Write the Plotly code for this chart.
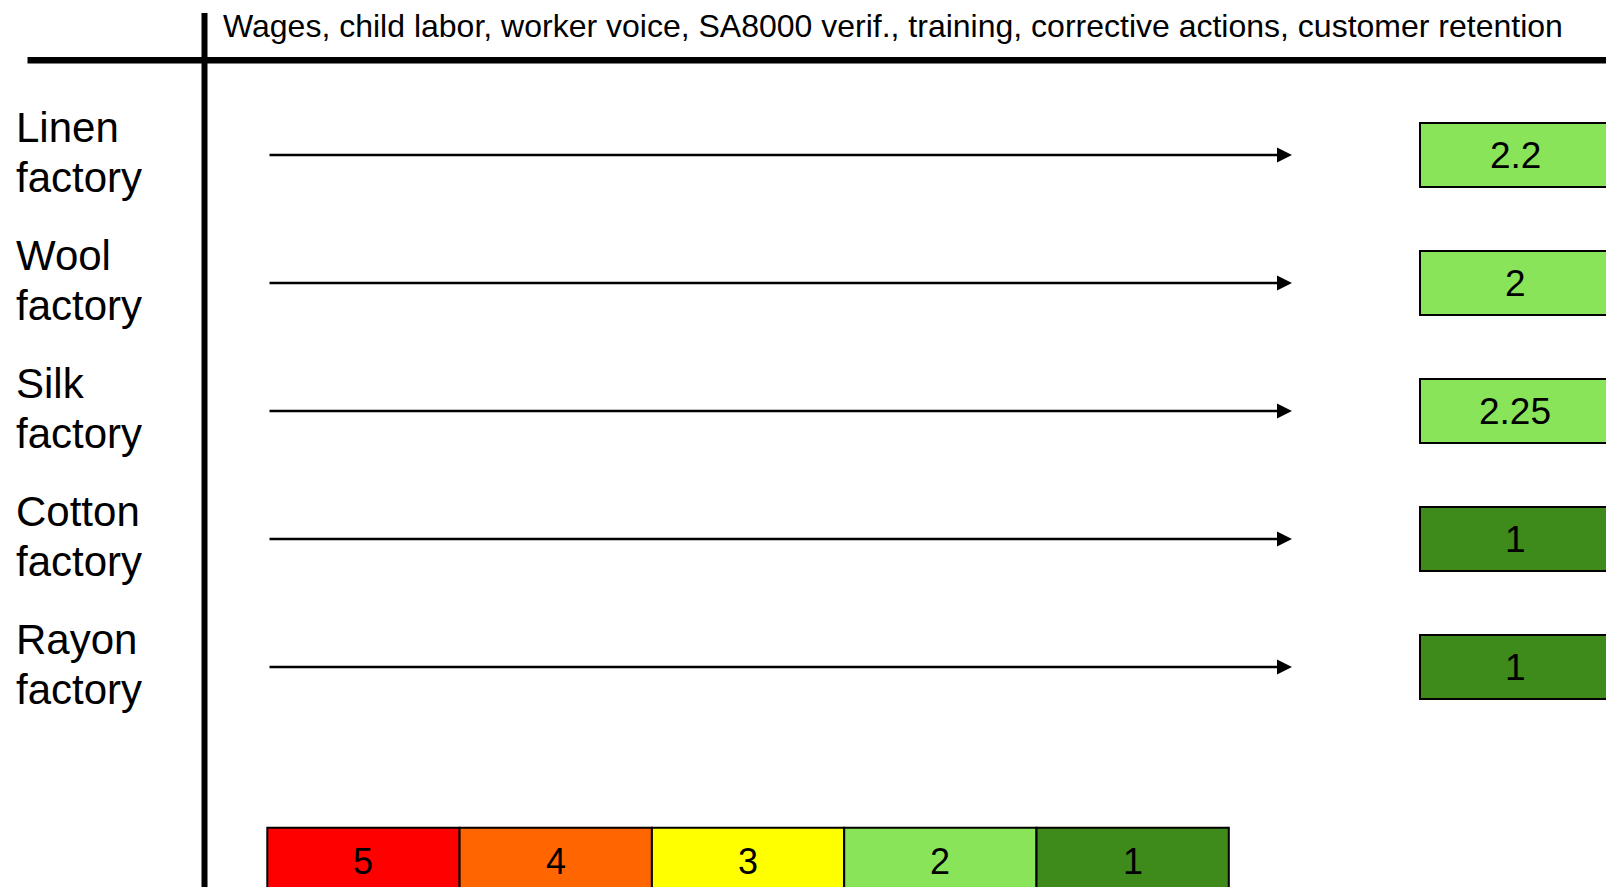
import plotly.graph_objects as go

# ---- data ----
factories = ["Linen factory", "Wool factory", "Silk factory", "Cotton factory", "Rayon factory"]
scores = [2.2, 2, 2.25, 1, 1]
header_text = "Wages, child labor, worker voice, SA8000 verif., training, corrective actions, customer retention"
scale_levels = [5, 4, 3, 2, 1]
scale_colors = ["#FF0000", "#FF6600", "#FFFF00", "#8AE45A", "#3E8A1A"]

# ---- layout constants (viewport pixels) ----
W, H = 1606, 887
ROW0_PX, ROW_STEP_PX = 155.0, 128.0
FONT = "Liberation Sans, Arial, Helvetica, sans-serif"


def py(p):
    """Convert a pixel row position into row units of the y axis."""
    return (p - ROW0_PX) / ROW_STEP_PX


color_of = dict(zip(scale_levels, scale_colors))

fig = go.Figure()
fig.add_trace(go.Scatter(x=[0], y=[0], mode="markers", marker=dict(opacity=0),
                         hoverinfo="skip", showlegend=False))

shapes = []
annotations = []

# frame lines
shapes.append(dict(type="line", xref="x", yref="y", x0=204.5, x1=204.5, y0=py(13), y1=py(H + 10),
                   line=dict(color="black", width=6)))
shapes.append(dict(type="line", xref="x", yref="y", x0=27.5, x1=W + 10, y0=py(60.3), y1=py(60.3),
                   line=dict(color="black", width=6.5)))

# header
annotations.append(dict(x=221, y=py(25.6), xref="x", yref="y", text=header_text, showarrow=False,
                        xanchor="left", yanchor="middle", font=dict(family=FONT, size=32, color="black")))

line_off = [py(127.1), py(177.1)]  # two label lines relative to row 0
for i, (name, sc) in enumerate(zip(factories, scores)):
    w1, w2 = name.split(" ", 1)
    for txt, off in ((w1, line_off[0]), (w2, line_off[1])):
        annotations.append(dict(x=13.5, y=i + off, xref="x", yref="y", text=txt, showarrow=False,
                                xanchor="left", yanchor="middle",
                                font=dict(family=FONT, size=42, color="black")))
    # arrow
    annotations.append(dict(x=1292, y=i, ax=268, ay=i, xref="x", yref="y", axref="x", ayref="y",
                            text="", showarrow=True, arrowhead=2, arrowsize=1.2, arrowwidth=2.5,
                            arrowcolor="black", standoff=0, startstandoff=0))
    # score box
    lvl = int(round(sc))
    shapes.append(dict(type="rect", xref="x", yref="y", x0=1420, x1=1610,
                       y0=i - 32 / ROW_STEP_PX, y1=i + 32 / ROW_STEP_PX,
                       fillcolor=color_of[lvl], line=dict(color="black", width=2), layer="above"))
    annotations.append(dict(x=1515, y=i + 0.5 / ROW_STEP_PX, xref="x", yref="y", text=f"{sc:g}",
                            showarrow=False, xanchor="center", yanchor="middle",
                            font=dict(family=FONT, size=37, color="black")))

# colour scale
LEG_X0, LEG_W = 267.3, 192.3
for j, (lv, col) in enumerate(zip(scale_levels, scale_colors)):
    shapes.append(dict(type="rect", xref="x", yref="y", x0=LEG_X0 + j * LEG_W, x1=LEG_X0 + (j + 1) * LEG_W,
                       y0=py(827.7), y1=py(900), fillcolor=col, line=dict(color="black", width=2),
                       layer="above"))
    annotations.append(dict(x=LEG_X0 + (j + 0.5) * LEG_W, y=py(861.5), xref="x", yref="y", text=str(lv),
                            showarrow=False, xanchor="center", yanchor="middle",
                            font=dict(family=FONT, size=36, color="black")))

fig.update_layout(
    width=W, height=H, margin=dict(l=0, r=0, t=0, b=0),
    paper_bgcolor="white", plot_bgcolor="white",
    xaxis=dict(range=[0, W], visible=False, fixedrange=True),
    yaxis=dict(range=[py(H), py(0)], visible=False, fixedrange=True),
    shapes=shapes, annotations=annotations, showlegend=False,
)

fig.write_html(
    "out.html",
    config={"displayModeBar": False},
    post_script="document.body.style.margin='0';document.body.style.overflow='hidden';",
)
